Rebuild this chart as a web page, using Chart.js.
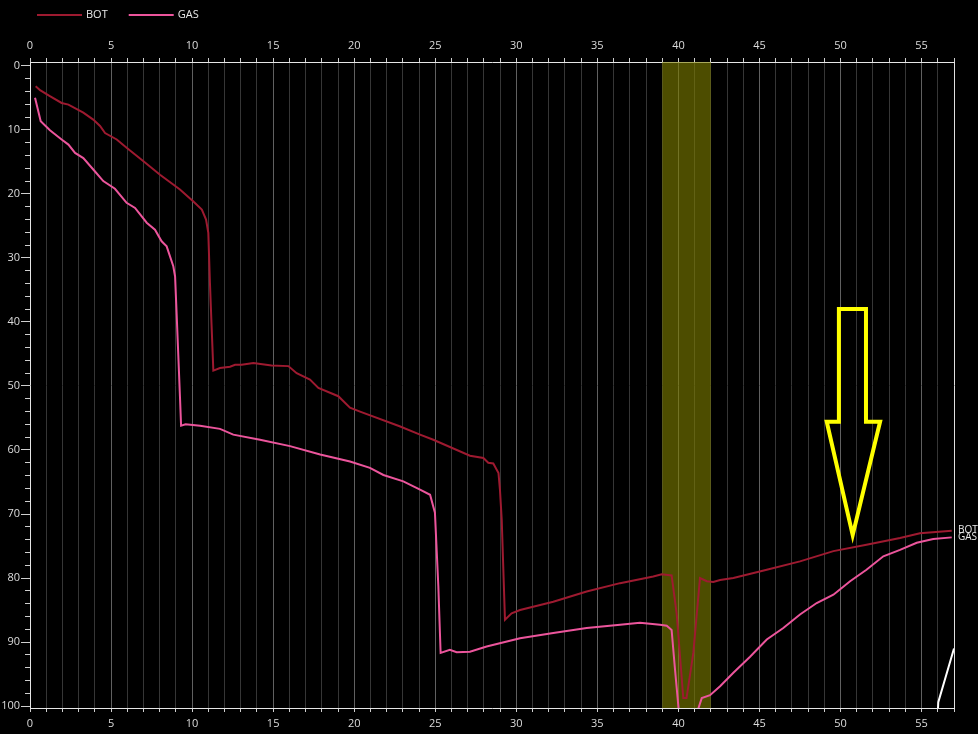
<!DOCTYPE html>
<html>
<head>
<meta charset="utf-8">
<script src="https://cdn.jsdelivr.net/npm/chart.js@4.4.1/dist/chart.umd.min.js"></script>
<style>
    html, body { margin: 0; padding: 0; background: #000; }
    canvas { display: block; }
</style>
</head>
<body>
<canvas id="content" width="978" height="734"></canvas>
<script>
// depth profile values
var botX = [0.35, 0.62, 1.2, 1.95, 2.37, 3.29, 3.9, 4.32, 4.63, 5.35, 5.96, 7.0, 8.02, 9.25, 10.08, 10.6, 10.86, 11.0, 11.1, 11.2,
    11.31, 11.72, 12.34, 12.65, 13.06, 13.78, 14.9, 15.94, 16.45, 17.27, 17.79, 19.02, 19.74, 20.36, 22.8, 24.06, 24.88, 27.14, 27.97, 28.27,
    28.58, 28.9, 28.99, 29.1, 29.3, 29.71, 30.23, 32.28, 34.34, 36.4, 38.45, 38.97, 39.58, 39.89, 40.3, 40.5, 40.92, 41.33, 41.75, 42.15,
    42.57, 43.39, 45.45, 47.5, 49.56, 51.6, 53.67, 54.9, 56.86];
var botY = [3.2, 3.8, 4.7, 5.8, 6.05, 7.3, 8.4, 9.4, 10.5, 11.5, 12.8, 14.9, 17.0, 19.3, 21.2, 22.45, 24.0, 26.1, 33.9, 40.5,
    47.6, 47.2, 47.0, 46.7, 46.7, 46.4, 46.8, 46.9, 48.0, 49.0, 50.3, 51.6, 53.4, 54.0, 56.3, 57.6, 58.4, 60.9, 61.25, 62.0,
    62.1, 63.6, 66.2, 70.9, 86.5, 85.5, 85.0, 83.7, 82.1, 80.8, 79.75, 79.4, 79.6, 85.5, 98.75, 98.75, 91.7, 80.0, 80.5, 80.6,
    80.3, 80.0, 78.7, 77.4, 75.8, 74.8, 73.75, 73.0, 72.6];

var gasX = [0.31, 0.66, 1.23, 1.95, 2.37, 2.78, 3.29, 4.01, 4.52, 5.24, 5.96, 6.48, 7.2, 7.71, 8.12, 8.43, 8.84, 8.95, 9.05, 9.25,
    9.32, 9.6, 10.49, 11.72, 12.54, 14.19, 16.04, 17.9, 19.74, 20.97, 21.8, 23.03, 24.06, 24.68, 24.98, 25.19, 25.33, 25.9, 26.32, 27.14,
    28.17, 30.23, 32.28, 34.34, 36.4, 37.63, 38.86, 39.28, 39.58, 39.79, 40.05, 41.2, 41.44, 41.95, 42.57, 43.39, 44.42, 45.45, 46.47, 47.5,
    48.53, 49.56, 50.59, 51.6, 52.64, 53.67, 54.7, 55.72, 56.86];
var gasY = [5.0, 8.65, 10.06, 11.5, 12.3, 13.6, 14.4, 16.5, 18.0, 19.2, 21.4, 22.2, 24.5, 25.6, 27.4, 28.2, 31.3, 32.9, 39.0, 51.6,
    56.2, 56.0, 56.2, 56.7, 57.6, 58.4, 59.4, 60.7, 61.8, 62.8, 63.9, 64.9, 66.2, 67.0, 69.8, 81.3, 91.7, 91.2, 91.6, 91.5,
    90.7, 89.4, 88.6, 87.8, 87.3, 87.0, 87.3, 87.45, 88.1, 94.3, 101.5, 100.6, 98.75, 98.3, 96.9, 94.8, 92.3, 89.6, 87.8, 85.7,
    83.9, 82.6, 80.5, 78.7, 76.6, 75.6, 74.5, 73.9, 73.65];

// white trace entering at bottom right
var extraX = [56.0, 56.03, 57.0];
var extraY = [101.0, 99.4, 91.0];

// yellow arrow outline (data units)
var arrowX = [49.9, 51.57, 51.57, 52.44, 50.75, 49.15, 49.9, 49.9, 51.57];
var arrowY = [37.97, 37.97, 55.6, 55.6, 73.3, 55.6, 55.6, 37.97, 37.97];

// highlighted span
var bandX = [39, 42];

var xRange = [0, 57];
var yRange = [-0.6, 100.3];
var xLabelEvery = 5;
var yLabelEvery = 10;

var FONT = "'Open Sans', 'Noto Sans', sans-serif";

function points(xs, ys) {
    return xs.map(function (x, i) { return {x: x, y: ys[i]}; });
}

var bgPlugin = {
    id: 'bg',
    beforeDraw: function (chart) {
        var c = chart.ctx;
        c.save();
        c.fillStyle = '#000';
        c.fillRect(0, 0, chart.width, chart.height);
        c.restore();
    }
};

var bandPlugin = {
    id: 'band',
    beforeDatasetsDraw: function (chart) {
        var c = chart.ctx, a = chart.chartArea, sx = chart.scales.x;
        var x0 = sx.getPixelForValue(bandX[0]), x1 = sx.getPixelForValue(bandX[1]);
        c.save();
        c.fillStyle = 'rgba(128,128,0,0.6)';
        c.fillRect(x0, a.top, x1 - x0, a.bottom - a.top);
        c.restore();
    }
};

var endLabelPlugin = {
    id: 'endLabels',
    afterDatasetsDraw: function (chart) {
        var c = chart.ctx, a = chart.chartArea;
        c.save();
        c.font = '10px ' + FONT;
        c.fillStyle = '#e8e8e8';
        c.textBaseline = 'middle';
        chart.data.datasets.forEach(function (ds, i) {
            if (!ds.endLabel) return;
            var meta = chart.getDatasetMeta(i);
            var last = meta.data[meta.data.length - 1];
            c.fillText(ds.label, a.right + 4, last.y);
        });
        c.restore();
    }
};

var legendPlugin = {
    id: 'lineLegend',
    afterDraw: function (chart) {
        var c = chart.ctx;
        var x = 37, y = 15;
        c.save();
        c.font = '11px ' + FONT;
        c.textBaseline = 'middle';
        chart.data.datasets.forEach(function (ds) {
            if (!ds.inLegend) return;
            c.strokeStyle = ds.borderColor;
            c.lineWidth = 2;
            c.beginPath();
            c.moveTo(x, y);
            c.lineTo(x + 45, y);
            c.stroke();
            c.fillStyle = '#e8e8e8';
            c.fillText(ds.label, x + 49, y);
            x += 49 + c.measureText(ds.label).width + 21;
        });
        c.restore();
    }
};

function xGridColor(ctx) {
    var v = ctx.tick ? ctx.tick.value : 0;
    if (v === xRange[1]) return '#e0e0e0';
    return v % 5 === 0 ? '#606060' : '#363636';
}

function chart() {
    var ctx = document.getElementById('content').getContext('2d');
    new Chart(ctx, {
        type: 'line',
        data: {
            datasets: [
                {label: 'BOT', data: points(botX, botY), borderColor: '#9e1a30', backgroundColor: '#9e1a30',
                    borderWidth: 2, pointRadius: 0, fill: false, tension: 0, clip: 0, inLegend: true, endLabel: true},
                {label: 'GAS', data: points(gasX, gasY), borderColor: '#ec559c', backgroundColor: '#ec559c',
                    borderWidth: 2, pointRadius: 0, fill: false, tension: 0, clip: 0, inLegend: true, endLabel: true},
                {label: 'extra', data: points(extraX, extraY), borderColor: '#ffffff',
                    borderWidth: 2, pointRadius: 0, fill: false, tension: 0, clip: 0},
                {label: 'arrow', data: points(arrowX, arrowY), borderColor: '#ffff00',
                    borderWidth: 4, borderJoinStyle: 'miter', pointRadius: 0, fill: false, tension: 0}
            ]
        },
        options: {
            responsive: false,
            animation: false,
            events: [],
            layout: {padding: {left: 0, right: 24, top: 0, bottom: 0}},
            plugins: {legend: {display: false}, tooltip: {enabled: false}},
            scales: {
                x: {
                    type: 'linear', position: 'top', min: xRange[0], max: xRange[1],
                    ticks: {stepSize: 1, autoSkip: false, maxRotation: 0, includeBounds: false, padding: 6,
                        color: '#dcdcdc', font: {family: FONT, size: 11},
                        callback: function (v) { return v % xLabelEvery === 0 ? v : ''; }},
                    grid: {color: xGridColor, lineWidth: 1, tickLength: 4, tickColor: '#cfcfcf'},
                    border: {color: '#e6e6e6', width: 1},
                    afterFit: function (s) { s.height = 62; }
                },
                x2: {
                    type: 'linear', position: 'bottom', min: xRange[0], max: xRange[1],
                    ticks: {stepSize: 1, autoSkip: false, maxRotation: 0, includeBounds: false, padding: 5,
                        color: '#dcdcdc', font: {family: FONT, size: 11},
                        callback: function (v) { return v % xLabelEvery === 0 ? v : ''; }},
                    grid: {drawOnChartArea: false, tickLength: 4, tickColor: '#cfcfcf'},
                    border: {color: '#e6e6e6', width: 1},
                    afterFit: function (s) { s.height = 26; }
                },
                y: {
                    type: 'linear', position: 'left', reverse: true, min: yRange[0], max: yRange[1],
                    ticks: {stepSize: 2, autoSkip: false, includeBounds: false, padding: 1,
                        color: '#dcdcdc', font: {family: FONT, size: 11},
                        callback: function (v) { return v % yLabelEvery === 0 ? v : ''; }},
                    grid: {drawOnChartArea: false, tickLength: 9, tickColor: '#cfcfcf',
                        tickBorderDash: function (c) { return c.tick && c.tick.value % yLabelEvery !== 0 ? [0, 4, 5, 20] : []; }},
                    border: {color: '#e6e6e6', width: 1},
                    afterFit: function (s) { s.width = 30; }
                }
            }
        },
        plugins: [bgPlugin, bandPlugin, endLabelPlugin, legendPlugin]
    });
}

chart();
</script>
</body>
</html>
